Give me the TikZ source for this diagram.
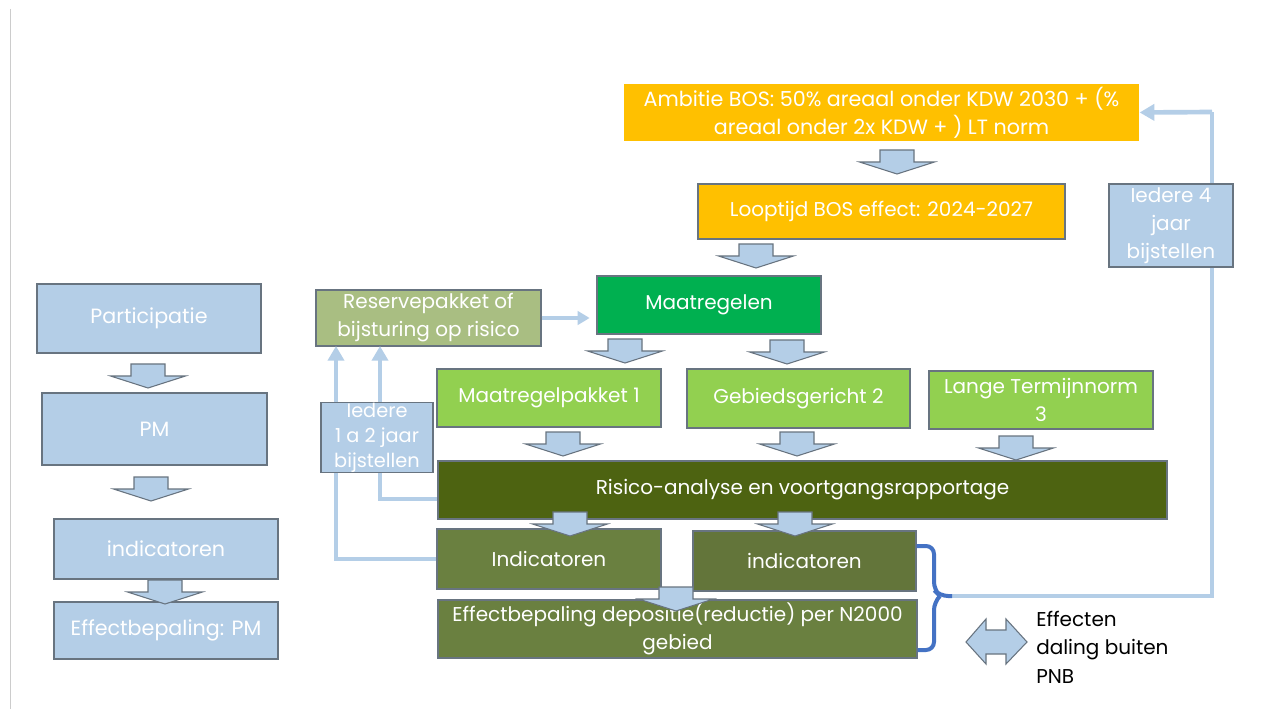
\documentclass[tikz,border=0pt]{standalone}
\usepackage{fontspec}
\setmainfont{Poppins}
\usepackage{tikz}
\usetikzlibrary{arrows.meta}
\definecolor{lightblue}{RGB}{180,206,231}
\definecolor{boxgray}{RGB}{104,116,128}
\definecolor{bosorange}{RGB}{255,192,0}
\definecolor{maatgreen}{RGB}{0,176,80}
\definecolor{pakgreen}{RGB}{146,208,80}
\definecolor{reservegreen}{RGB}{169,190,130}
\definecolor{risicogreen}{RGB}{77,99,17}
\definecolor{indgreen}{RGB}{106,128,64}
\definecolor{ind2green}{RGB}{99,117,58}
\definecolor{braceblue}{RGB}{68,114,196}
\tikzset{>={Triangle[length=11pt,width=12pt]}}
\tikzset{
  size/.style 2 args={minimum width=#1*0.75pt, minimum height=#2*0.75pt},
  box/.style={draw=boxgray, line width=1pt, text=white, align=center, inner sep=0pt,
    font=\fontsize{15}{21}\selectfont},
  blkarrow/.style={fill=lightblue, draw=boxgray, line width=0.8pt},
  loopline/.style={draw=lightblue, line width=3.5pt},
}
% block arrow: centre x, top y
\newcommand{\blkarr}[2]{\draw[blkarrow] ({#1-17},#2) -- ({#1+17},#2) -- ({#1+17},{#2+12})
  -- ({#1+37.5},{#2+12}) -- (#1,{#2+24}) -- ({#1-37.5},{#2+12}) -- ({#1-17},{#2+12}) -- cycle;}

\begin{document}
\begin{tikzpicture}[x=0.75pt,y=-0.75pt]
      \fill[white] (0,0) rectangle (1261,709);
      \useasboundingbox (0,0) rectangle (1261,709);
      \draw[black!20, line width=0.8pt] (10.7,9) -- (10.7,709);
      % left column
      \node[box, fill=lightblue, size={224}{69}, font=\fontsize{15.5}{21}\selectfont] (part) at (149,318.5) {Participatie};
      \node[box, fill=lightblue, size={225}{72}, font=\fontsize{15.5}{21}\selectfont] (pm) at (154.5,429) {PM};
      \node[box, fill=lightblue, size={224}{60}, font=\fontsize{15.5}{21}\selectfont] (lind) at (166,549) {indicatoren};
      \node[box, fill=lightblue, size={224}{57}, font=\fontsize{15.5}{21}\selectfont] (leff) at (166,630.5) {Effectbepaling: PM};
      \blkarr{148}{364}
      \blkarr{151}{477}
      \blkarr{165}{580}
      % main flow
      \node[box, draw=none, fill=bosorange, size={515}{57}, font=\fontsize{15.5}{21}\selectfont] (amb) at (881.5,112.5)
        {Ambitie BOS: 50\% areaal onder KDW 2030 + (\%\\areaal onder 2x KDW + ) LT norm};
      \node[box, fill=bosorange, size={367}{55}] (loop) at (881.5,211.5) {Looptijd BOS effect: 2024-2027};
      \node[box, fill=maatgreen, size={224}{58}] (maat) at (709,305) {Maatregelen};
      \node[box, fill=reservegreen, size={225}{56}] (reserve) at (428.5,318) {Reservepakket of\\bijsturing op risico};
      \node[box, fill=pakgreen, size={224}{58}] (mp1) at (549,398) {Maatregelpakket 1};
      \node[box, fill=pakgreen, size={223}{59}] (geb2) at (798.5,398.5) {Gebiedsgericht 2};
      \node[box, fill=pakgreen, size={224}{58}] (ltn3) at (1041,400) {Lange Termijnnorm\\3};
      \node[box, fill=risicogreen, size={729}{58}] (risico) at (802.5,490) {Risico-analyse en voortgangsrapportage};
      \node[box, fill=indgreen, size={224}{60}] (ind1) at (549,559) {Indicatoren};
      \node[box, fill=ind2green, size={223}{60}] (ind2) at (804.5,561) {indicatoren};
      \node[box, fill=indgreen, size={479}{58}] (effect) at (677.5,629) {Effectbepaling depositie(reductie) per N2000\\gebied};
      \blkarr{897}{150}
      \blkarr{756}{244}
      \blkarr{625}{339}
      \blkarr{787}{340}
      \blkarr{563}{432}
      \blkarr{797}{432}
      \blkarr{1016}{436}
      \blkarr{570}{512}
      \blkarr{795}{512}
      \blkarr{676}{587}
      % feedback lines
      \coordinate (r1) at (336,346);
      \coordinate (r2) at (380,346);
      \coordinate (bt) at (952,596);
      \coordinate (rc) at (1212,112);
      \draw[loopline, line width=3pt, -{Triangle[length=9pt,width=10pt]}, shorten >=5pt]
        (reserve.east) -- (reserve.east -| maat.west);
      \draw[loopline, ->] (ind1.west) -| (r1);
      \draw[loopline, ->] ([yshift=-6.75pt]risico.west) -| (r2);
      \draw[loopline] (bt) -| (rc);
      \draw[loopline, ->] (rc) -- (amb.east);
      \draw[braceblue, line width=3pt, rounded corners=6pt]
        (ind2.north east |- 0,546) -- (934,546) -- (934,590) -- (940,596) -- (bt);
      \draw[braceblue, line width=3pt, rounded corners=6pt]
        (effect.south east |- 0,650) -- (934,650) -- (934,602) -- (940,596);
      \node[box, fill=lightblue, size={124}{83}] (ied4) at (1171,225.5)
        {Iedere 4\\jaar\\bijstellen};
      \node[box, fill=lightblue, size={112}{69}, font=\fontsize{14.5}{18.75}\selectfont] (ied12) at (377,437.5)
        {Iedere\\1 a 2 jaar\\bijstellen};
      % effecten
      \draw[blkarrow] (966,642) -- (986,619) -- (986,630) -- (1006,630) -- (1006,619) -- (1027,642)
        -- (1006,664) -- (1006,654) -- (986,654) -- (986,664) -- cycle;
      \node[anchor=west, align=left, inner sep=0pt, font=\fontsize{15}{21.4}\selectfont] (eff) at (1036,647)
        {Effecten\\daling buiten\\PNB};
    \end{tikzpicture}
\end{document}
